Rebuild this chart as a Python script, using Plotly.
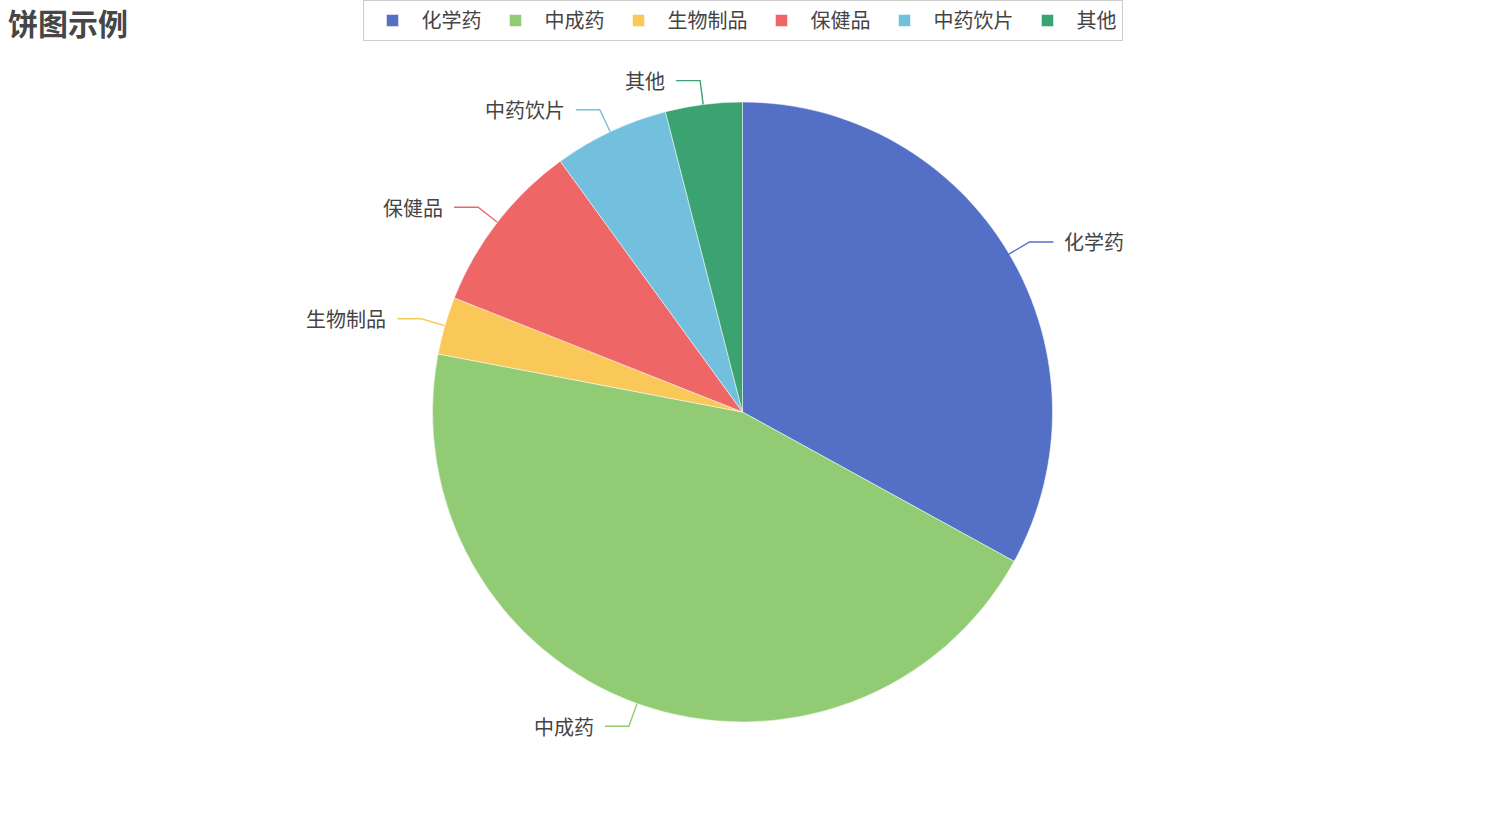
import math
import plotly.graph_objects as go

CATEGORIES = ["化学药", "中成药", "生物制品", "保健品", "中药饮片", "其他"]
VALUES = [33, 45, 3, 9, 6, 4]
COLORS = ["#5470c6", "#91cc75", "#fac858", "#ee6666", "#73c0de", "#3ba272"]

W, H = 1485, 825
CX, CY, R = 742, 412, 310     # pie centre / radius in px
LEN1, LEN2, GAP = 24, 24, 9   # leader line pieces
FONT = "Noto Sans CJK SC, Microsoft YaHei, sans-serif"


def px(x, y):
    return x / W, 1 - y / H


fig = go.Figure()
fig.add_trace(go.Pie(
    labels=CATEGORIES,
    values=VALUES,
    sort=False,
    direction="clockwise",
    rotation=0,
    textinfo="none",
    marker=dict(colors=COLORS, line=dict(color="white", width=0.5)),
    domain=dict(x=[0.5 - R / W, 0.5 + R / W], y=[1 - (CY + R) / H, 1 - (CY - R) / H]),
))

# outside labels with elbow leader lines, placed from the slice mid-angles
shapes, annotations = [], []
total = sum(VALUES)
acc = 0
for name, val, col in zip(CATEGORIES, VALUES, COLORS):
    mid = (acc + val / 2) / total * 2 * math.pi
    acc += val
    s, c = math.sin(mid), math.cos(mid)
    x0, y0 = CX + R * s, CY - R * c
    x1, y1 = CX + (R + LEN1) * s, CY - (R + LEN1) * c
    side = 1 if s >= 0 else -1
    x2 = x1 + side * LEN2
    p0, p1, p2 = px(x0, y0), px(x1, y1), px(x2, y1)
    shapes.append(dict(
        type="path", xref="paper", yref="paper",
        path=f"M{p0[0]},{p0[1]} L{p1[0]},{p1[1]} L{p2[0]},{p2[1]}",
        line=dict(color=col, width=1.4),
    ))
    tx, ty = px(x2 + side * GAP, y1)
    annotations.append(dict(
        text=name, x=tx, y=ty, xref="paper", yref="paper", showarrow=False,
        xanchor="left" if side > 0 else "right", yanchor="middle",
        font=dict(size=20, color="#444", family=FONT),
    ))

# chart title, top-left
annotations.append(dict(
    text="<b>饼图示例</b>", x=6 / W, y=1 - 22 / H, xref="paper", yref="paper",
    showarrow=False, xanchor="left", yanchor="middle",
    font=dict(size=30, color="#464646", family=FONT),
))

fig.update_layout(
    width=W, height=H,
    margin=dict(l=0, r=0, t=0, b=0),
    paper_bgcolor="white",
    font=dict(family=FONT, color="#444"),
    legend=dict(
        orientation="h", x=0.5, xanchor="center", y=1, yanchor="top",
        bordercolor="#cccccc", borderwidth=1,
        font=dict(size=20, color="#444", family=FONT),
        itemwidth=48,
    ),
    shapes=shapes,
    annotations=annotations,
)

fig.write_html("out.html", config={"displayModeBar": False},
               post_script="document.body.style.margin='0';")
